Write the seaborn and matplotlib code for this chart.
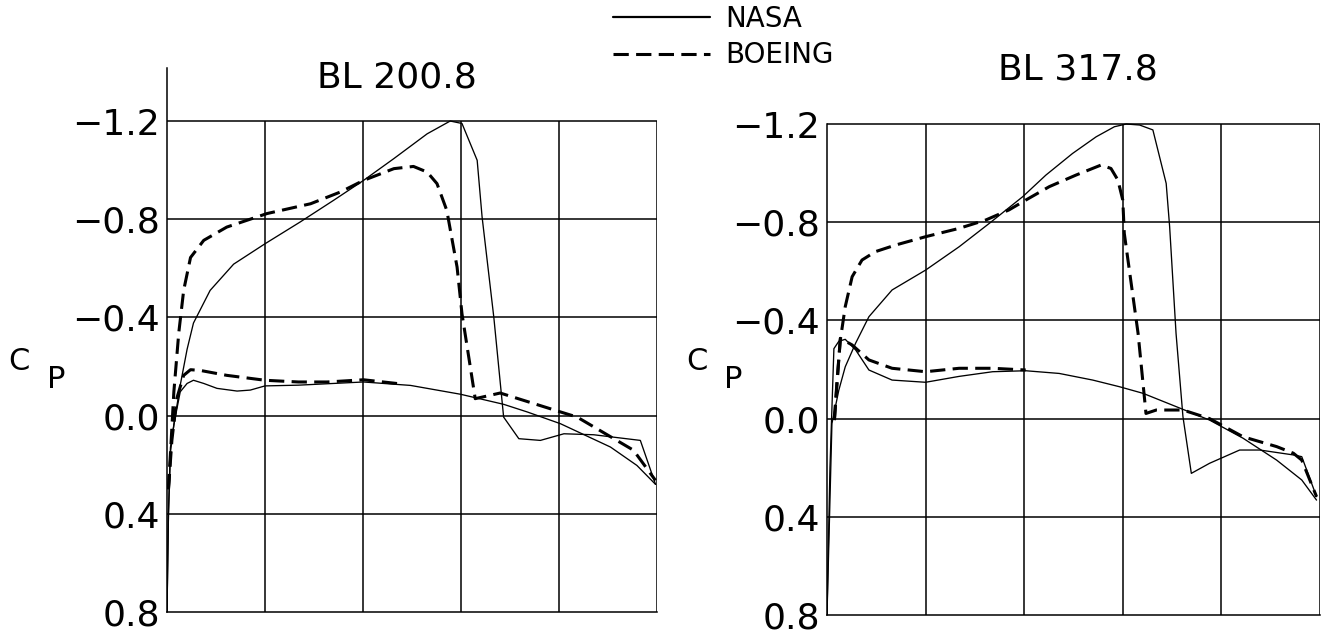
import numpy as np
import pandas as pd
import matplotlib
matplotlib.use("Agg")
import matplotlib.pyplot as plt
import seaborn as sns
from matplotlib.lines import Line2D

# ---------------- data (x/c, Cp) ----------------
titles = ["BL 200.8", "BL 317.8"]
series_names = ["NASA", "BOEING"]
y_ticks = [-1.2, -0.8, -0.4, 0.0, 0.4, 0.8]
y_tick_labels = ["\u22121.2", "\u22120.8", "\u22120.4", "0.0", "0.4", "0.8"]
x_grid = [0.2, 0.4, 0.6, 0.8, 1.0]

# BL 200.8
nasa_up_x_1 = [0.0, 0.003, 0.007, 0.017, 0.027, 0.041, 0.054, 0.088, 0.136, 0.2, 0.272, 0.34, 0.401,
               0.463, 0.531, 0.578, 0.602, 0.633, 0.643, 0.667, 0.687, 0.718, 0.762, 0.81, 0.871, 0.966, 0.997]
nasa_up_cp_1 = [0.8, 0.4, 0.13, 0.0, -0.124, -0.27, -0.377, -0.51, -0.617, -0.70, -0.789, -0.877, -0.958,
                -1.047, -1.148, -1.2, -1.19, -1.04, -0.81, -0.40, 0.006, 0.094, 0.101, 0.074, 0.078, 0.101, 0.28]
nasa_lo_x_1 = [0.0, 0.003, 0.007, 0.014, 0.027, 0.041, 0.054, 0.075, 0.102, 0.143, 0.17, 0.2, 0.268,
               0.401, 0.497, 0.599, 0.687, 0.735, 0.803, 0.905, 0.959, 0.997]
nasa_lo_cp_1 = [0.8, 0.4, 0.15, 0.036, -0.097, -0.131, -0.144, -0.131, -0.111, -0.10, -0.104, -0.121, -0.124,
                -0.137, -0.123, -0.087, -0.046, -0.015, 0.033, 0.128, 0.203, 0.28]
boe_up_x_1 = [0.003, 0.014, 0.024, 0.034, 0.048, 0.075, 0.122, 0.204, 0.293, 0.354, 0.401, 0.463, 0.503,
              0.531, 0.551, 0.571, 0.592, 0.602, 0.619, 0.629, 0.68, 0.803, 0.837, 0.952, 0.997]
boe_up_cp_1 = [0.3, -0.097, -0.337, -0.51, -0.644, -0.714, -0.768, -0.823, -0.863, -0.911, -0.958, -1.006, -1.015,
               -0.992, -0.945, -0.836, -0.605, -0.415, -0.198, -0.069, -0.092, -0.015, 0.006, 0.141, 0.264]
boe_lo_x_1 = [0.003, 0.01, 0.02, 0.034, 0.048, 0.068, 0.122, 0.2, 0.268, 0.327, 0.401, 0.473]
boe_lo_cp_1 = [0.3, 0.10, -0.07, -0.164, -0.187, -0.184, -0.164, -0.144, -0.137, -0.137, -0.146, -0.13]

# BL 317.8
nasa_up_x_2 = [0.0, 0.01, 0.024, 0.037, 0.058, 0.085, 0.132, 0.2, 0.268, 0.329, 0.397, 0.444, 0.498, 0.546,
               0.583, 0.607, 0.634, 0.661, 0.688, 0.695, 0.708, 0.722, 0.739, 0.776, 0.837, 0.878, 0.946, 0.963, 0.993]
nasa_up_cp_2 = [0.8, 0.02, -0.116, -0.211, -0.307, -0.415, -0.524, -0.605, -0.70, -0.795, -0.904, -0.992, -1.08, -1.148,
                -1.189, -1.2, -1.196, -1.176, -0.958, -0.782, -0.347, -0.008, 0.223, 0.182, 0.128, 0.128, 0.148, 0.155, 0.318]
nasa_lo_x_2 = [0.0, 0.006, 0.014, 0.024, 0.037, 0.058, 0.085, 0.132, 0.2, 0.268, 0.336, 0.403, 0.471, 0.539,
               0.593, 0.641, 0.708, 0.776, 0.844, 0.912, 0.963, 0.993]
nasa_lo_cp_2 = [0.8, 0.2, -0.285, -0.315, -0.323, -0.28, -0.198, -0.157, -0.148, -0.172, -0.191, -0.195, -0.184, -0.157,
                -0.13, -0.103, -0.049, 0.006, 0.08, 0.169, 0.25, 0.332]
boe_up_x_2 = [0.015, 0.02, 0.027, 0.037, 0.051, 0.071, 0.098, 0.139, 0.2, 0.268, 0.322, 0.369, 0.403, 0.451, 0.505,
              0.556, 0.576, 0.59, 0.6, 0.603, 0.617, 0.631, 0.641, 0.647, 0.668, 0.722, 0.776, 0.844, 0.912, 0.946,
              0.963, 0.993]
boe_up_cp_2 = [0.006, -0.144, -0.32, -0.456, -0.578, -0.646, -0.68, -0.707, -0.741, -0.775, -0.809, -0.85, -0.89,
               -0.945, -0.992, -1.033, -1.019, -0.972, -0.89, -0.755, -0.551, -0.347, -0.144, -0.021, -0.035, -0.035,
               0.0, 0.074, 0.114, 0.141, 0.169, 0.318]
boe_lo_x_2 = [0.015, 0.027, 0.051, 0.085, 0.132, 0.2, 0.268, 0.336, 0.403]
boe_lo_cp_2 = [0.006, -0.327, -0.30, -0.239, -0.205, -0.191, -0.205, -0.205, -0.198]

panels = [
    [("NASA", nasa_up_x_1, nasa_up_cp_1), ("NASA", nasa_lo_x_1, nasa_lo_cp_1),
     ("BOEING", boe_up_x_1, boe_up_cp_1), ("BOEING", boe_lo_x_1, boe_lo_cp_1)],
    [("NASA", nasa_up_x_2, nasa_up_cp_2), ("NASA", nasa_lo_x_2, nasa_lo_cp_2),
     ("BOEING", boe_up_x_2, boe_up_cp_2), ("BOEING", boe_lo_x_2, boe_lo_cp_2)],
]

# ---------------- styling ----------------
sns.set_style("white")
plt.rcParams["font.family"] = ["DejaVu Sans"]
plt.rcParams["text.color"] = "black"
plt.rcParams["axes.labelcolor"] = "black"
plt.rcParams["ytick.color"] = "black"
plt.rcParams["xtick.color"] = "black"

W, H = 1323, 632
fig = plt.figure(figsize=(W / 100, H / 100), dpi=100)


def fx(px):
    return px / W


def fy(py):
    return 1 - py / H


ax1 = fig.add_axes([fx(167), fy(612), (657 - 167) / W, (612 - 68) / H])
ax2 = fig.add_axes([fx(827), fy(615), (1320 - 827) / W, (615 - 71) / H])
axes = [ax1, ax2]

styles = {
    "NASA": dict(lw=0.95, linestyle="-"),
    "BOEING": dict(lw=2.2, linestyle=(0, (5, 2.4))),
}

for i, ax in enumerate(axes):
    ax.set_xlim(0, 1)
    ax.set_ylim(0.8, -1.416)
    # grid limited to the -1.2 .. 0.8 box
    ax.hlines(y_ticks[:-1], 0, 1, color="black", lw=1.1, zorder=1)
    ax.vlines(x_grid, 0.8, -1.2, color="black", lw=1.1, zorder=1)
    for name, xs, cps in panels[i]:
        df = pd.DataFrame({"x": xs, "cp": cps})
        sns.lineplot(data=df, x="x", y="cp", ax=ax, sort=False, estimator=None,
                     color="black", legend=False, zorder=3, **styles[name])
    for s in ["top", "right"]:
        ax.spines[s].set_visible(False)
    for s in ["left", "bottom"]:
        ax.spines[s].set_color("black")
        ax.spines[s].set_linewidth(1.1)
    if i == 1:
        ax.spines["left"].set_bounds(-1.2, 0.8)
    ax.set_xticks([])
    ax.set_yticks(y_ticks)
    ax.set_yticklabels(y_tick_labels)
    ax.tick_params(axis="y", length=0, pad=5, labelsize=26, colors="black")
    ax.set_xlabel("")
    ax.set_ylabel("")

# titles
fig.text(fx(397), fy(88), titles[0], ha="center", va="baseline", fontsize=26, color="black")
fig.text(fx(1078), fy(80), titles[1], ha="center", va="baseline", fontsize=26, color="black")

# Cp labels
for cx, px_ in [(19, 56), (697, 733)]:
    fig.text(fx(cx), fy(361), "C", ha="center", va="center", fontsize=22, color="black")
    fig.text(fx(px_), fy(379), "P", ha="center", va="center", fontsize=22, color="black")

# legend
handles = [Line2D([], [], color="black", lw=1.6),
           Line2D([], [], color="black", lw=2.2, linestyle=(0, (5, 2.4)))]
fig.legend(handles, series_names, loc="upper left", bbox_to_anchor=(fx(613), fy(5)),
           frameon=False, fontsize=20, handlelength=3.5, handletextpad=0.55,
           labelspacing=0.3, borderpad=0, borderaxespad=0, labelcolor="black")

fig.savefig("out.png", dpi=100)
